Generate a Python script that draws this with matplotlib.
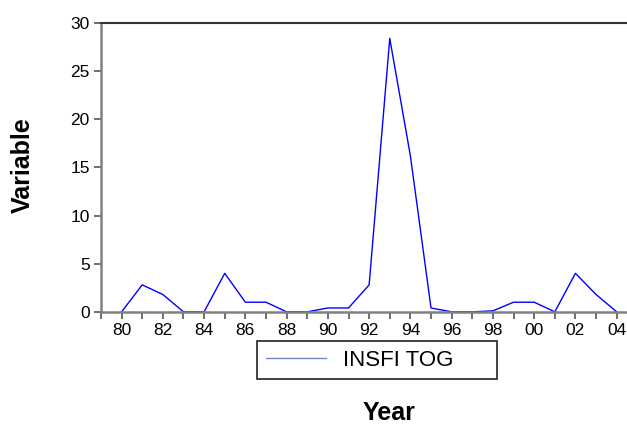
import numpy as np
import matplotlib
matplotlib.use('Agg')
import matplotlib.pyplot as plt
from matplotlib.ticker import MultipleLocator, FuncFormatter

years = list(range(1980, 2005))
insfi_tog = [0.0, 2.8, 1.8, 0.0, 0.0, 4.0, 1.0, 1.0, 0.0, 0.0,
             0.4, 0.4, 2.8, 28.4, 16.2, 0.4, 0.0, 0.0, 0.1, 1.0,
             1.0, 0.0, 4.0, 1.8, 0.0]
series_name = 'INSFI TOG'

plt.rcParams['font.family'] = ['Liberation Sans', 'DejaVu Sans']

fig = plt.figure(figsize=(6.27, 4.26), dpi=100)
ax = fig.add_axes([0.161, 0.268, 0.839, 0.678])

ax.plot(years, insfi_tog, color='#0000ff', lw=1.0, label=series_name)

ax.set_xlim(1979, 2004.5)
ax.set_ylim(0, 30)
ax.set_yticks([0, 5, 10, 15, 20, 25, 30])
ax.xaxis.set_minor_locator(MultipleLocator(1))
ax.set_xticks(range(1980, 2005, 2))
ax.xaxis.set_major_formatter(FuncFormatter(lambda v, p: f'{int(v) % 100:02d}'))

ax.tick_params(axis='both', which='both', direction='out', length=5, width=1.2,
               color='#555555', labelsize=12.5, pad=3)

ax.spines['right'].set_visible(False)
ax.spines['top'].set_color('#333333')
ax.spines['top'].set_linewidth(1.5)
ax.spines['left'].set_color('#808080')
ax.spines['left'].set_linewidth(1.8)
ax.spines['bottom'].set_color('#808080')
ax.spines['bottom'].set_linewidth(1.8)

ax.set_xlabel('Year', fontsize=18, fontweight='bold')
ax.xaxis.set_label_coords(0.548, -0.31)
ax.set_ylabel('Variable', fontsize=18, fontweight='bold')
ax.yaxis.set_label_coords(-0.125, 0.509)

leg = ax.legend(loc='upper left', bbox_to_anchor=(0.2966, -0.239, 0.456, 0.139),
                mode='expand', fontsize=16, frameon=True, fancybox=False,
                edgecolor='black', handlelength=2.7, handletextpad=0.75,
                borderpad=0.4, borderaxespad=0)
leg.get_frame().set_linewidth(1.3)
leg.get_lines()[0].set_color('#6f8cbf')

fig.savefig('out.png', dpi=100)
